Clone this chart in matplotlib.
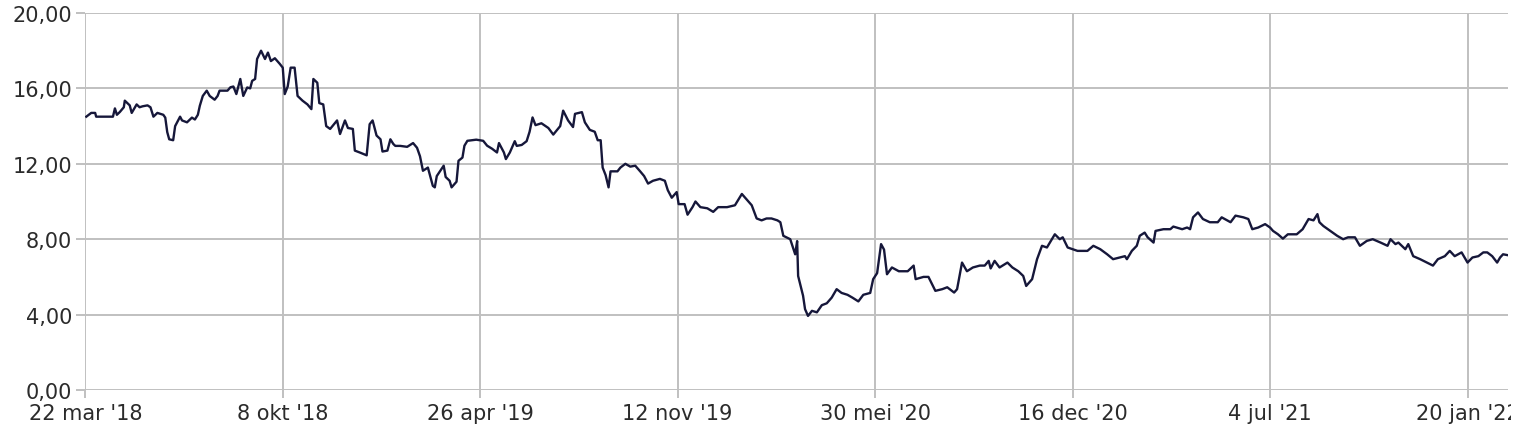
import numpy as np
import pandas as pd
import matplotlib
matplotlib.use("Agg")
import matplotlib.pyplot as plt
from matplotlib.ticker import FuncFormatter
from matplotlib.transforms import Bbox, TransformedBbox

START = pd.Timestamp("2018-03-22")

# days since 22 mar 2018, and the price on that day
DAYS = [
    1, 6, 10, 11, 28, 30, 32, 35, 39, 40, 45, 47, 52, 55, 58, 63, 66, 69, 73, 79,
    81, 83, 85, 89, 91, 96, 98, 103, 108, 111, 114, 116, 119, 123, 126, 131, 134, 136, 144, 147,
    150, 153, 157, 160, 164, 167, 169, 172, 174, 178, 182, 185, 188, 192, 197, 200, 202, 205, 208, 212,
    215, 220, 225, 229, 231, 235, 237, 241, 244, 248, 255, 258, 263, 266, 271, 273, 278, 285, 288, 291,
    295, 299, 301, 306, 309, 312, 314, 319, 326, 332, 336, 339, 342, 347, 352, 354, 356, 363, 365, 369,
    371, 376, 378, 382, 384, 387, 396, 403, 407, 412, 417, 419, 424, 426, 430, 435, 437, 442, 447, 450,
    453, 456, 462, 469, 474, 481, 484, 489, 494, 496, 503, 506, 511, 516, 519, 522, 524, 527, 530, 532,
    539, 542, 547, 552, 557, 562, 566, 570, 575, 582, 587, 590, 594, 599, 601, 607, 610, 615, 618, 623,
    630, 636, 641, 650, 658, 665, 670, 675, 680, 685, 690, 695, 701, 704, 707, 714, 719, 721, 722, 727,
    729, 732, 736, 741, 746, 751, 756, 761, 766, 772, 777, 783, 788, 795, 798, 802, 806, 809, 812, 817,
    824, 833, 839, 841, 849, 854, 861, 868, 873, 880, 883, 888, 893, 899, 906, 911, 915, 917, 921, 926,
    934, 939, 945, 950, 953, 959, 964, 969, 974, 979, 982, 987, 990, 995, 1005, 1015, 1021, 1028, 1035, 1041,
    1048, 1053, 1055, 1060, 1065, 1068, 1073, 1076, 1082, 1084, 1092, 1099, 1102, 1111, 1116, 1119, 1122, 1127, 1132, 1139,
    1147, 1151, 1160, 1165, 1173, 1178, 1182, 1188, 1195, 1200, 1203, 1208, 1213, 1218, 1227, 1233, 1239, 1244, 1248, 1250,
    1254, 1261, 1268, 1274, 1279, 1286, 1291, 1298, 1304, 1312, 1319, 1322, 1327, 1330, 1337, 1340, 1345, 1352, 1359, 1365,
    1370, 1377, 1382, 1387, 1394, 1400, 1405, 1411, 1416, 1420, 1425, 1430, 1433, 1436, 1441,
]
PRICES = [
    14.50, 14.70, 14.70, 14.50, 14.50, 14.94, 14.60, 14.75, 15.00, 15.35, 15.10, 14.70, 15.15, 15.00, 15.05, 15.10, 15.00, 14.50, 14.70, 14.60,
    14.45, 13.68, 13.30, 13.25, 14.00, 14.50, 14.30, 14.20, 14.45, 14.35, 14.60, 15.08, 15.60, 15.88, 15.60, 15.40, 15.60, 15.88, 15.88, 16.06,
    16.10, 15.70, 16.50, 15.60, 16.05, 16.00, 16.40, 16.50, 17.56, 18.00, 17.56, 17.90, 17.45, 17.60, 17.30, 17.10, 15.70, 16.10, 17.10, 17.10,
    15.60, 15.35, 15.15, 14.90, 16.50, 16.30, 15.22, 15.15, 14.00, 13.85, 14.30, 13.58, 14.30, 13.90, 13.85, 12.70, 12.60, 12.45, 14.10, 14.30,
    13.50, 13.30, 12.65, 12.70, 13.30, 13.05, 12.95, 12.95, 12.90, 13.10, 12.85, 12.40, 11.63, 11.80, 10.83, 10.75, 11.35, 11.90, 11.30, 11.10,
    10.75, 11.05, 12.16, 12.33, 12.96, 13.22, 13.28, 13.22, 12.96, 12.80, 12.60, 13.10, 12.60, 12.25, 12.60, 13.20, 12.95, 13.00, 13.20, 13.70,
    14.46, 14.05, 14.15, 13.90, 13.55, 14.00, 14.82, 14.30, 13.95, 14.65, 14.74, 14.20, 13.80, 13.70, 13.25, 13.25, 11.80, 11.40, 10.75, 11.60,
    11.60, 11.80, 12.00, 11.85, 11.90, 11.60, 11.35, 10.95, 11.10, 11.20, 11.10, 10.60, 10.20, 10.50, 9.86, 9.86, 9.30, 9.70, 10.00, 9.70,
    9.64, 9.45, 9.70, 9.70, 9.80, 10.40, 10.10, 9.80, 9.10, 9.00, 9.10, 9.10, 9.00, 8.90, 8.18, 8.00, 7.20, 7.90, 6.05, 5.00,
    4.29, 3.93, 4.20, 4.12, 4.50, 4.60, 4.90, 5.35, 5.15, 5.05, 4.90, 4.70, 5.05, 5.15, 5.88, 6.20, 7.74, 7.45, 6.14, 6.50,
    6.30, 6.30, 6.60, 5.88, 6.00, 6.00, 5.26, 5.35, 5.45, 5.17, 5.35, 6.76, 6.30, 6.50, 6.60, 6.60, 6.85, 6.45, 6.85, 6.50,
    6.76, 6.50, 6.30, 6.05, 5.52, 5.88, 6.94, 7.65, 7.56, 8.00, 8.26, 8.00, 8.10, 7.56, 7.38, 7.38, 7.65, 7.47, 7.20, 6.94,
    7.03, 7.10, 6.94, 7.38, 7.65, 8.18, 8.35, 8.10, 7.82, 8.44, 8.53, 8.53, 8.67, 8.53, 8.62, 8.53, 9.16, 9.42, 9.07, 8.90,
    8.90, 9.16, 8.90, 9.25, 9.16, 9.07, 8.53, 8.62, 8.80, 8.62, 8.44, 8.26, 8.03, 8.26, 8.26, 8.53, 9.07, 9.00, 9.33, 8.90,
    8.70, 8.44, 8.18, 8.00, 8.10, 8.10, 7.65, 7.91, 8.00, 7.82, 7.65, 8.00, 7.74, 7.82, 7.47, 7.74, 7.10, 6.94, 6.76, 6.60,
    6.94, 7.10, 7.38, 7.10, 7.30, 6.76, 7.03, 7.10, 7.30, 7.30, 7.10, 6.76, 7.03, 7.20, 7.15,
]

TICK_DAYS = [0, 200, 400, 600, 800, 1000, 1200, 1400]
Y_TICKS = [0, 4, 8, 12, 16, 20]
MONTHS_NL = ["jan", "feb", "mar", "apr", "mei", "jun",
             "jul", "aug", "sep", "okt", "nov", "dec"]

LINE_C = "#16173a"
GRID_C = "#c0c0c0"
TEXT_C = "#2b2b2b"

dates = START + pd.to_timedelta(DAYS, unit="D")
tick_dates = START + pd.to_timedelta(TICK_DAYS, unit="D")
tick_labels = [f"{d.day} {MONTHS_NL[d.month - 1]} '{d.year % 100:02d}" for d in tick_dates]

fig = plt.figure(figsize=(15.18, 4.35), dpi=100, facecolor="white")
ax = fig.add_axes([85.3 / 1518, 1 - 391 / 435, (1508 - 85.3) / 1518, (391 - 14) / 435])

ax.plot(dates, PRICES, color=LINE_C, linewidth=1.7, zorder=3)

ax.set_xlim(START, START + pd.Timedelta(days=1441))
ax.set_ylim(0, 20)
ax.set_xticks(tick_dates)
ax.set_xticklabels(tick_labels)
ax.set_yticks(Y_TICKS)
ax.yaxis.set_major_formatter(FuncFormatter(lambda v, _: f"{v:.2f}".replace(".", ",")))

ax.grid(True, color=GRID_C, linewidth=1.4, zorder=1)
for s in ax.spines.values():
    s.set_visible(False)
ax.tick_params(axis="y", length=6.5, width=1.4, color=GRID_C, pad=3,
               labelsize=15, labelcolor=TEXT_C)
ax.tick_params(axis="x", length=5.5, width=1.4, color=GRID_C, pad=4,
               labelsize=15, labelcolor=TEXT_C)

# the last date label is cut off at the right edge, as in the original
clip = TransformedBbox(Bbox([[0, 0], [1511 / 1518, 1]]), fig.transFigure)
for lab in ax.get_xticklabels():
    lab.set_clip_box(clip)
    lab.set_clip_on(True)

fig.savefig("out.png", dpi=100, facecolor="white")
